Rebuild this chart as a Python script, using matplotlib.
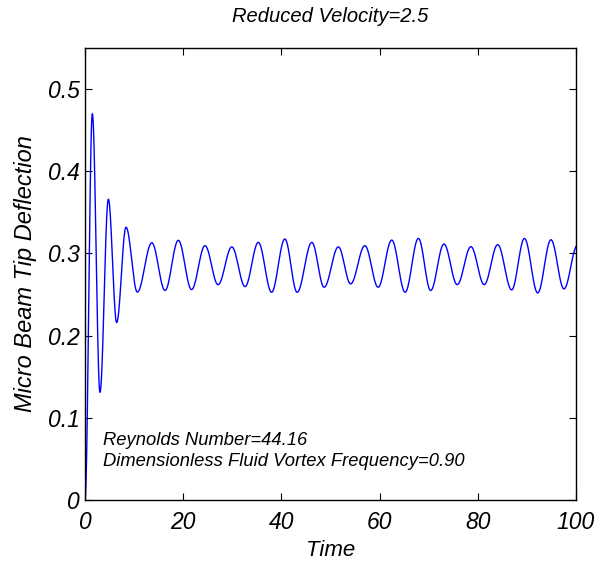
import numpy as np
import matplotlib
matplotlib.use("Agg")
import matplotlib.pyplot as plt

plt.rcParams['font.family'] = ['Liberation Sans', 'DejaVu Sans']

# Extrema of the tip deflection signal (time, value)
t_ext = [0.0, 1.49, 3.05, 4.75, 6.45, 8.35, 10.65, 13.6, 16.3, 19.0, 21.7,
         24.44, 27.1, 29.9, 32.6, 35.3, 38.0, 40.7, 43.2, 46.2, 48.7,
         51.6, 54.1, 57.0, 59.7, 62.47, 65.2, 67.9, 70.4, 73.1, 75.8,
         78.6, 81.3, 84.05, 86.9, 89.5, 92.2, 94.9, 97.55, 100.3]
v_ext = [0.0, 0.470, 0.131, 0.366, 0.216, 0.332, 0.253, 0.313, 0.255, 0.316, 0.256,
         0.3095, 0.262, 0.308, 0.2597, 0.3135, 0.2528, 0.3176, 0.2528, 0.3135, 0.2589,
         0.308, 0.263, 0.3095, 0.2589, 0.3163, 0.2528, 0.3183, 0.2549, 0.3115, 0.2621,
         0.3083, 0.2621, 0.3107, 0.2557, 0.3183, 0.2520, 0.3167, 0.2569, 0.310]

title = "Reduced Velocity=2.5"
xlabel = "Time"
ylabel = "Micro Beam Tip Deflection"
note_lines = ["Reynolds Number=44.16", "Dimensionless Fluid Vortex Frequency=0.90"]
xticks = [0, 20, 40, 60, 80, 100]
xticklabels = ["0", "20", "40", "60", "80", "100"]
yticks = [0, 0.1, 0.2, 0.3, 0.4, 0.5]
yticklabels = ["0", "0.1", "0.2", "0.3", "0.4", "0.5"]

# smooth half-cosine drawing between successive extrema
ts, vs = [], []
for i in range(len(t_ext) - 1):
    s = np.linspace(0, 1, 40, endpoint=False)
    ts.append(t_ext[i] + (t_ext[i + 1] - t_ext[i]) * s)
    vs.append(v_ext[i] + (v_ext[i + 1] - v_ext[i]) * (1 - np.cos(np.pi * s)) / 2)
ts = np.concatenate(ts)
vs = np.concatenate(vs)

fig = plt.figure(figsize=(6.06, 5.63), dpi=100)
ax = fig.add_axes([0.1403, 0.1119, 0.8102, 0.8028])
ax.plot(ts, vs, color=(0, 0, 1), lw=1.0)
ax.set_xlim(0, 100)
ax.set_ylim(0, 0.55)
ax.set_xticks(xticks)
ax.set_xticklabels(xticklabels)
ax.set_yticks(yticks)
ax.set_yticklabels(yticklabels)
ax.tick_params(direction='in', length=5, top=True, right=True, labelsize=16.5)
ax.tick_params(axis='x', pad=8)
ax.tick_params(axis='y', pad=3.5)
for lab in ax.get_xticklabels() + ax.get_yticklabels():
    lab.set_fontstyle('italic')
for sp in ax.spines.values():
    sp.set_linewidth(1.0)
ax.set_title(title, fontsize=14.5, style='italic', pad=19)
ax.set_xlabel(xlabel, fontsize=16, style='italic', labelpad=4)
ax.set_ylabel(ylabel, fontsize=17, style='italic', labelpad=8)
note_y = [0.0728, 0.0473]
for txt, yy in zip(note_lines, note_y):
    ax.text(3.7, yy, txt, fontsize=13.2, style='italic', va='center', ha='left')

fig.savefig("out.png", dpi=100)
